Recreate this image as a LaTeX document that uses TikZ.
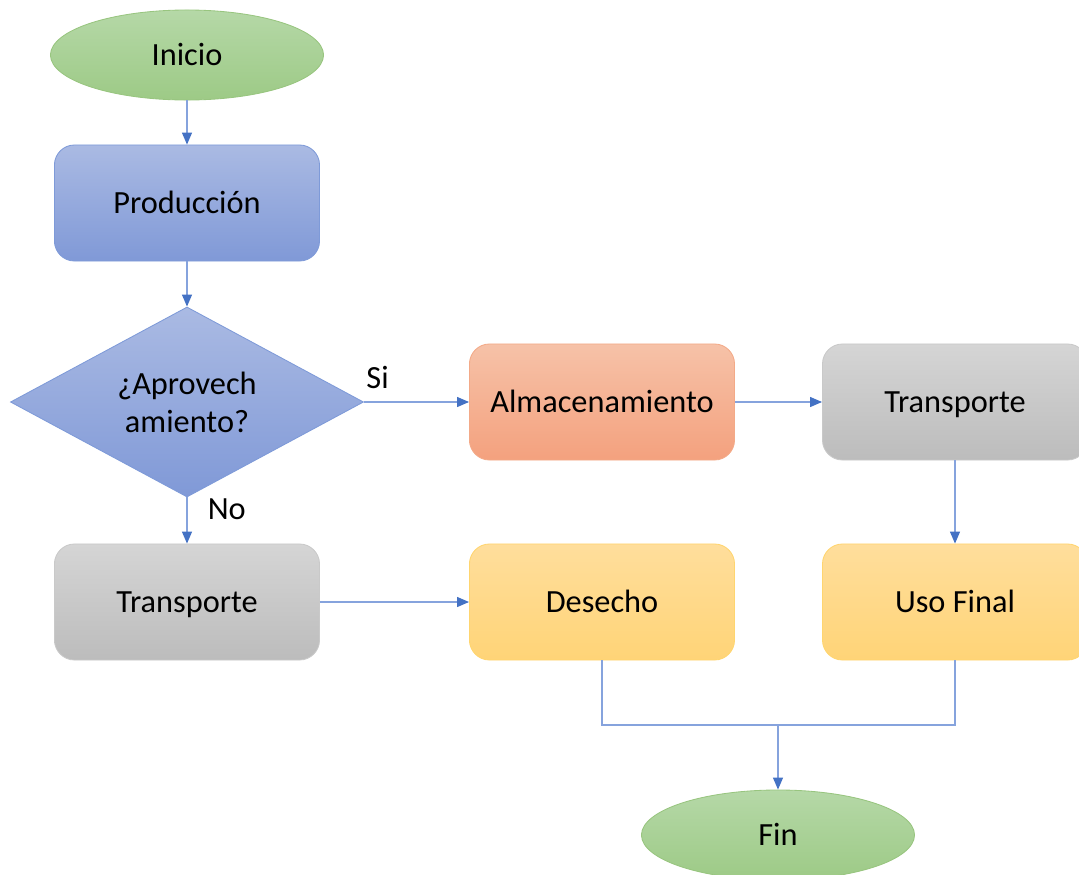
\documentclass[tikz,border=0pt]{standalone}
\usepackage{fontspec}
\setmainfont{Carlito}
\usetikzlibrary{shapes.geometric,arrows.meta}

\definecolor{greentop}{HTML}{B5D8A7}
\definecolor{greenbot}{HTML}{9DCA86}
\definecolor{greenline}{HTML}{98C57F}
\definecolor{bluetop}{HTML}{AABAE3}
\definecolor{bluebot}{HTML}{8099D7}
\definecolor{blueline}{HTML}{7E9AD8}
\definecolor{orangetop}{HTML}{F6C2A8}
\definecolor{orangebot}{HTML}{F4A17E}
\definecolor{orangeline}{HTML}{F3AA88}
\definecolor{graytop}{HTML}{D5D5D5}
\definecolor{graybot}{HTML}{BCBCBC}
\definecolor{grayline}{HTML}{C9C9C9}
\definecolor{yellowtop}{HTML}{FFDE9C}
\definecolor{yellowbot}{HTML}{FFD477}
\definecolor{yellowline}{HTML}{FFD56F}
\definecolor{wire}{HTML}{86A3DD}
\definecolor{tip}{HTML}{4472C4}

\begin{document}
\begin{tikzpicture}[x=0.025cm,y=-0.025cm,
	font=\fontsize{23}{27}\selectfont,
	terminal/.style={ellipse,minimum width=6.825cm,minimum height=2.25cm,text height=14.8pt,text depth=0pt,
		top color=greentop,bottom color=greenbot,draw=greenline,line width=0.6pt},
	box/.style={rectangle,rounded corners=0.5cm,minimum width=6.625cm,minimum height=2.9cm,
		text height=14.8pt,text depth=0pt,line width=0.6pt},
	bluebox/.style={box,top color=bluetop,bottom color=bluebot,draw=blueline},
	orangebox/.style={box,top color=orangetop,bottom color=orangebot,draw=orangeline},
	graybox/.style={box,top color=graytop,bottom color=graybot,draw=grayline},
	yellowbox/.style={box,top color=yellowtop,bottom color=yellowbot,draw=yellowline},
	decision/.style={diamond,aspect=1.86,inner sep=0pt,minimum width=8.825cm,minimum height=4.75cm,
		top color=bluetop,bottom color=bluebot,draw=blueline,line width=0.6pt,align=center},
	wireline/.style={draw=wire,line width=0.9pt},
	flow/.style={wireline,-{Triangle[length=0.3cm,width=0.25cm,color=tip]}}]
	\useasboundingbox (0,0) rectangle (1079,875);

	% left column
	\node[terminal] (inicio) at (187,55) {Inicio};
	\node[bluebox] (prod) at (187,203) {Producción};
	\node[decision] (aprov) at (187,402) {¿Aprovech\\amiento?};
	\node[graybox] (transA) at (187,602) {Transporte};

	% right part
	\node[orangebox] (almac) at (602,402) {Almacenamiento};
	\node[graybox] (transB) at (955,402) {Transporte};
	\node[yellowbox] (desecho) at (602,602) {Desecho};
	\node[yellowbox] (uso) at (955,602) {Uso Final};
	\node[terminal] (fin) at (778,835) {Fin};
	\coordinate (join) at (778,725);

	\draw[flow] (aprov.east) -- node[pos=0,anchor=south west,xshift=-2pt,yshift=6pt] (si) {Si} (almac);
	\draw[flow] (aprov.south) -- node[pos=0,anchor=north west,xshift=11pt,yshift=3pt] (no) {No} (transA);
	\draw[flow] (inicio) -- (prod);
	\draw[flow] (prod) -- (aprov);
	\draw[flow] (almac) -- (transB);
	\draw[flow] (transB) -- (uso);
	\draw[flow] (transA) -- (desecho);
	% output
	\draw[wireline] (desecho.south) |- (join) -| (uso.south);
	\draw[flow] (join) -- (fin);
\end{tikzpicture}
\end{document}
